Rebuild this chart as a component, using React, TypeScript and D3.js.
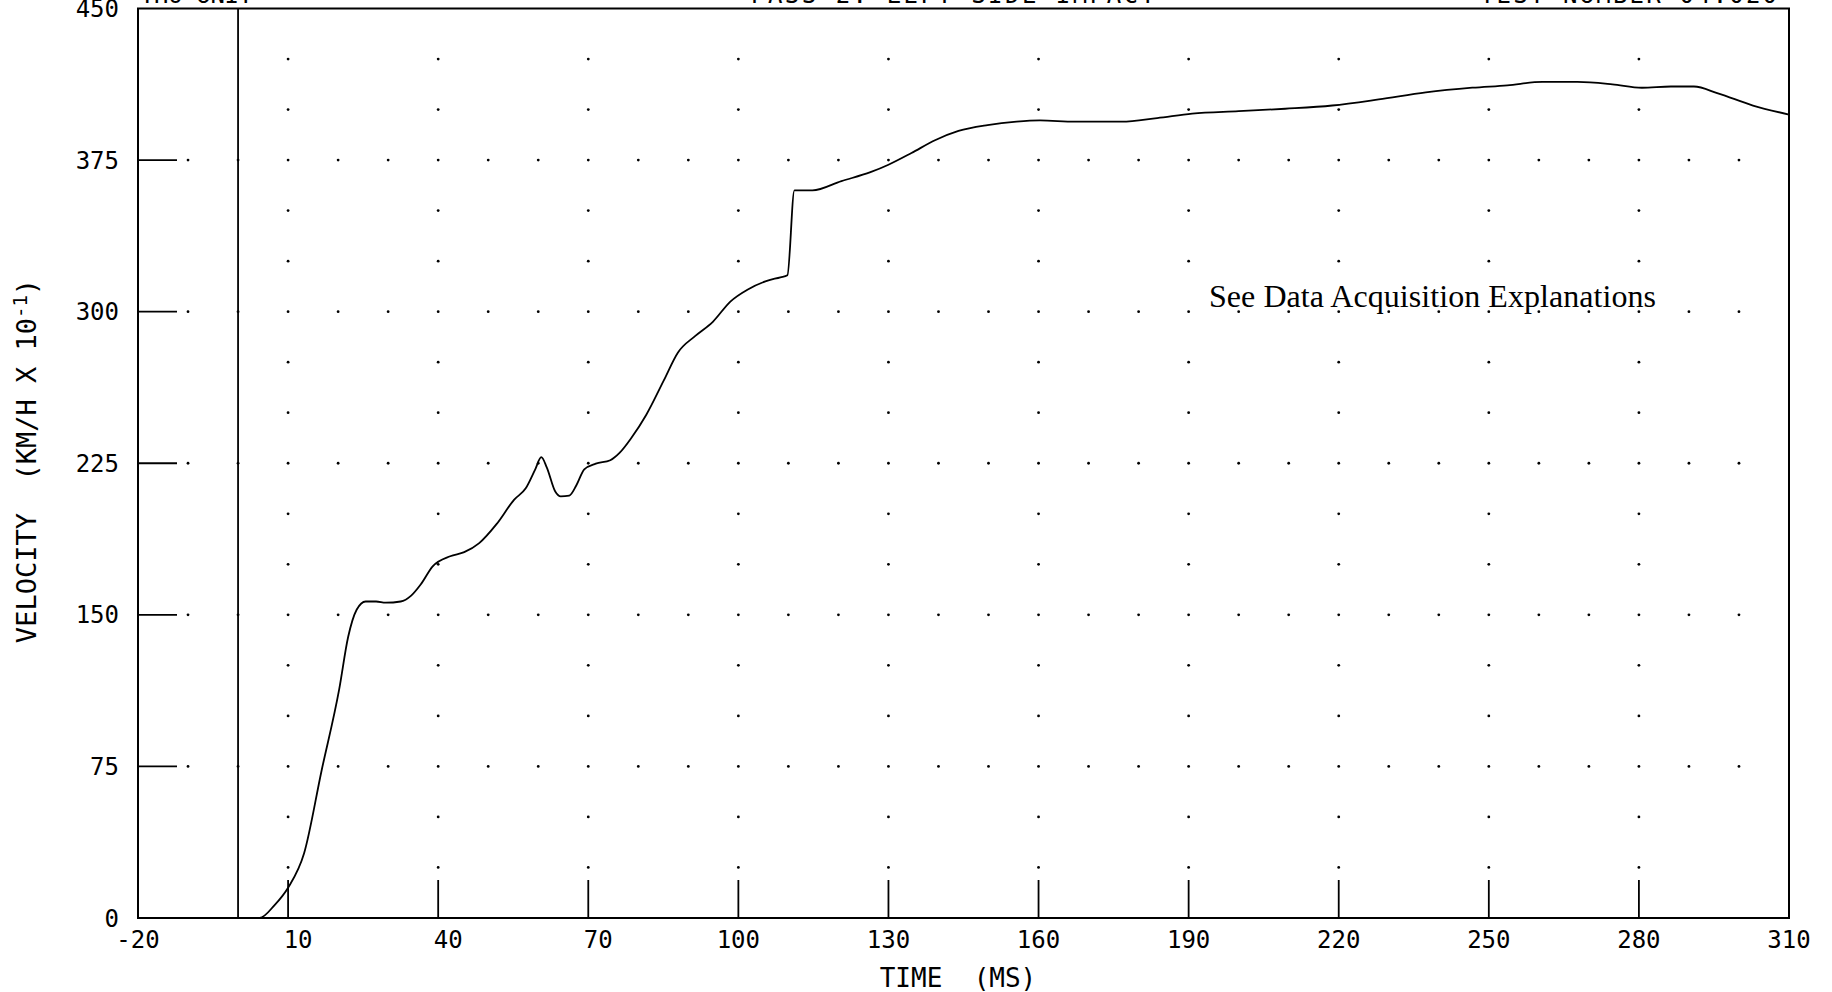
import React from "react";
import * as d3 from "d3";

const timeMs = [0, 4.3, 7.3, 10, 13.2, 16.7, 20.2, 22, 23.7, 25.5, 27.6, 29.5, 32.5, 34.6, 36.5, 38.9, 42.4, 45.2, 48.2, 51.7, 55.2, 57.5, 59.4, 60.6, 61.7, 63.4, 64.5, 66.2, 67.6, 69.2, 71.5, 74.4, 76.2, 78.6, 81.6, 85.1, 87.9, 91.4, 94.9, 98.4, 101.9, 105.4, 108.4, 109.8, 111.2, 112.4, 114.8, 120.6, 126.4, 130, 134.6, 139.3, 144, 149.8, 155.6, 160.3, 167.3, 176.6, 183.7, 190.7, 200, 209.3, 218.7, 228, 237.4, 246.7, 253.7, 260.7, 267.7, 274.7, 280.6, 286.4, 291, 295.8, 302.8, 310];
const velocity = [0, 0, 6.4, 15, 32, 73, 113, 139, 152.5, 156.6, 156.6, 156, 156.6, 159.5, 165, 174, 179, 181, 185.5, 195, 207, 212.6, 222, 228, 223, 211, 208.6, 209, 214, 222, 224.8, 226.5, 230, 237.5, 249, 266, 279.7, 288, 295, 305, 311, 315, 317, 318, 360, 360, 360, 364.6, 369, 372.7, 378.5, 384.8, 389.4, 392.3, 394, 394.6, 394, 394, 395.8, 398, 399.2, 400.4, 402, 405, 408.5, 410.8, 412, 413.7, 413.7, 412.5, 410.8, 411.4, 411.4, 408, 402, 397.5];

const xTickValues = [-20, 10, 40, 70, 100, 130, 160, 190, 220, 250, 280, 310];
const yTickValues = [0, 75, 150, 225, 300, 375, 450];
const headerTexts = ["THO UNIT", "PASS 2: LEFT SIDE IMPACT", "TEST NUMBER  04:020"];
const annotation = "See Data Acquisition Explanations";

const W = 1832;
const H = 992;
const left = 138;
const right = 1789;
const top = 8.5;
const bottom = 918;
const mono = "'DejaVu Sans Mono', monospace";

export default function App() {
  const x = d3.scaleLinear().domain([-20, 310]).range([left, right]);
  const y = d3.scaleLinear().domain([0, 450]).range([bottom, top]);
  const line = d3
    .line<number>()
    .x((_, i) => x(timeMs[i]))
    .y((d) => y(d))
    .curve(d3.curveMonotoneX);

  const dots: { t: number; v: number }[] = [];
  for (let v = 25; v < 450; v += 25) {
    if (v % 75 === 0) {
      for (let t = -10; t <= 300; t += 10) dots.push({ t, v });
    } else {
      for (let t = 10; t <= 280; t += 30) dots.push({ t, v });
    }
  }

  return (
    <svg
      width={W}
      height={H}
      style={{ position: "absolute", left: 0, top: 0, background: "#fff" }}
    >
      <rect x={0} y={0} width={W} height={H} fill="#fff" />
      {/* header, mostly cut off at the top edge as in the source */}
      <text x={140} y={3} fontFamily={mono} fontSize={24} textLength={113} fill="#000">
        {headerTexts[0]}
      </text>
      <text x={751} y={3} fontFamily={mono} fontSize={24} textLength={404} fill="#000">
        {headerTexts[1]}
      </text>
      <text x={1480} y={3} fontFamily={mono} fontSize={24} textLength={297} fill="#000">
        {headerTexts[2]}
      </text>

      {/* grid dots */}
      {dots.map((d, i) => (
        <circle key={i} cx={x(d.t)} cy={y(d.v)} r={1.4} fill="#000" />
      ))}

      {/* zero time line */}
      <line x1={x(0)} x2={x(0)} y1={top} y2={bottom} stroke="#000" strokeWidth={1.8} />

      {/* ticks */}
      {xTickValues
        .filter((t) => t > -20 && t < 310)
        .map((t) => (
          <line key={t} x1={x(t)} x2={x(t)} y1={bottom} y2={bottom - 38} stroke="#000" strokeWidth={1.8} />
        ))}
      {yTickValues
        .filter((v) => v > 0 && v < 450)
        .map((v) => (
          <line key={v} x1={left} x2={left + 39} y1={y(v)} y2={y(v)} stroke="#000" strokeWidth={1.8} />
        ))}

      {/* frame */}
      <rect x={left} y={top} width={right - left} height={bottom - top} fill="none" stroke="#000" strokeWidth={2} />

      {/* curve */}
      <path d={line(velocity) || ""} fill="none" stroke="#000" strokeWidth={1.8} strokeLinejoin="round" />

      {/* tick labels */}
      {yTickValues.map((v) => (
        <text
          key={v}
          x={119}
          y={y(v)}
          dy="0.36em"
          textAnchor="end"
          fontFamily={mono}
          fontSize={24}
          fill="#000"
        >
          {String(v)}
        </text>
      ))}
      {xTickValues.map((t) => {
        const s = String(t);
        return (
          <text
            key={t}
            x={x(t) + (3 - s.length) * 10}
            y={948}
            textAnchor="middle"
            fontFamily={mono}
            fontSize={24}
            fill="#000"
          >
            {s}
          </text>
        );
      })}

      {/* axis titles */}
      <text x={958} y={987} textAnchor="middle" fontFamily={mono} fontSize={26} fill="#000" xmlSpace="preserve">
        {"TIME  (MS)"}
      </text>
      <text
        transform="translate(36,461) rotate(-90)"
        textAnchor="middle"
        fontFamily={mono}
        fontSize={27}
        fill="#000"
        xmlSpace="preserve"
      >
        {"VELOCITY  (KM/H X 10"}
        <tspan fontSize={19} dy={-9}>{"-1"}</tspan>
        <tspan dy={9}>{")"}</tspan>
      </text>

      {/* annotation */}
      <text x={1209} y={307} fontFamily="'Liberation Serif', 'Times New Roman', serif" fontSize={32} textLength={447} fill="#000">
        {annotation}
      </text>
    </svg>
  );
}
